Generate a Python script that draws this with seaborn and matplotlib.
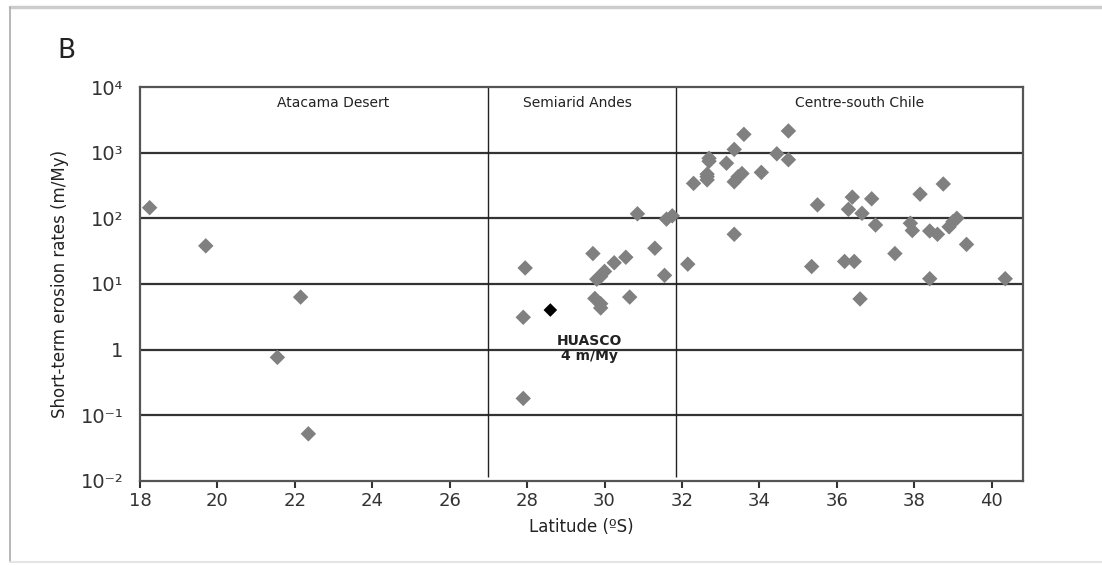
import matplotlib
matplotlib.use('Agg')
import pandas as pd
import seaborn as sns
import matplotlib.pyplot as plt
from matplotlib.lines import Line2D

# Values (latitude in degrees S, erosion rate in m/My)
latitude = [18.25, 19.7, 22.15, 21.55, 22.35,
            27.95, 27.9, 27.9, 29.7, 30.25, 30.55, 31.3, 30.85, 31.6, 31.75,
            31.55, 30.0, 29.9, 29.8, 29.75, 29.9, 29.9, 30.65,
            32.15, 32.3, 32.65, 32.65, 32.7, 32.65, 32.7, 33.15, 33.35, 33.6,
            33.35, 33.45, 33.55, 33.35, 34.05, 34.45, 34.75, 34.75,
            35.5, 35.35, 36.4, 36.3, 36.65, 36.9, 37.0, 36.2, 36.45, 36.6,
            37.5, 37.9, 37.95, 38.15, 38.4, 38.6, 38.9, 39.0, 39.1, 38.75,
            39.35, 38.4, 40.35]
rate = [145, 38, 6.3, 0.76, 0.052,
        17.5, 3.1, 0.18, 29, 21, 25.5, 35, 117, 97, 109,
        13.5, 15.5, 13, 11.8, 6, 5, 4.3, 6.3,
        20, 340, 430, 385, 820, 470, 740, 690, 1120, 1900,
        360, 430, 480, 57, 500, 960, 2140, 780,
        160, 18.4, 210, 137, 119, 198, 79, 22, 22, 5.9,
        29, 84, 65, 233, 64, 57, 74, 89, 100, 333,
        40, 12, 12]
huasco_lat = [28.6]
huasco_rate = [4]

regions = ['Atacama Desert', 'Semiarid Andes', 'Centre-south Chile']
region_mid = [23.0, 29.3, 36.6]
boundaries = [27.0, 31.85]
ytick_labels = ['10⁻²', '10⁻¹', '1', '10¹', '10²', '10³', '10⁴']

df = pd.DataFrame({'Latitude': latitude, 'Rate': rate})
huasco = pd.DataFrame({'Latitude': huasco_lat, 'Rate': huasco_rate})

sns.set_style('white')
plt.rcParams['font.family'] = ['DejaVu Sans']

fig = plt.figure(figsize=(11.02, 5.65), dpi=100)
ax = fig.add_axes([0.127, 0.149, 0.801, 0.697])

# Horizontal decade lines
for e in range(-1, 4):
    ax.axhline(10.0 ** e, color='#333333', lw=1.6, zorder=1)
# Region dividers
ax.vlines(boundaries, 0.0115, 1e4, color='#222222', lw=1.0, zorder=1)

sns.scatterplot(data=df, x='Latitude', y='Rate', marker='D', s=62,
                color='#808080', edgecolor='none', ax=ax, zorder=3)
sns.scatterplot(data=huasco, x='Latitude', y='Rate', marker='D', s=48,
                color='black', edgecolor='none', ax=ax, zorder=4)

ax.set_yscale('log')
ax.set_ylim(1e-2, 1e4)
ax.set_xlim(18, 40.8)
ax.set_xticks(range(18, 41, 2))
ax.set_yticks([1e-2, 1e-1, 1, 1e1, 1e2, 1e3, 1e4])
ax.set_yticklabels(ytick_labels)
ax.minorticks_off()
ax.tick_params(axis='x', which='major', direction='out', length=5, width=1.5,
               color='#333333', labelsize=13, pad=3, bottom=True,
               labelcolor='#333333')
ax.tick_params(axis='y', which='major', length=0, labelsize=14, pad=12,
               labelcolor='#333333')

for s in ax.spines.values():
    s.set_color('#555555')
    s.set_linewidth(1.6)

for name, xm in zip(regions, region_mid):
    ax.text(xm, 5.8e3, name, ha='center', va='center', fontsize=10,
            color='#222222')

ax.text(29.6, 1.05, 'HUASCO\n4 m/My', ha='center', va='center',
        fontsize=10, fontweight='bold', color='#222222', linespacing=1.1)

ax.set_xlabel('Latitude (ºS)', fontsize=12, labelpad=6, color='#222222')
ax.set_ylabel('Short-term erosion rates (m/My)', fontsize=12, labelpad=8,
              color='#222222')

fig.text(0.052, 0.91, 'B', fontsize=19, color='#222222', ha='left',
         va='center')

# outer frame
fig.add_artist(Line2D([0.009, 1.0], [0.987, 0.987], transform=fig.transFigure,
                      color='#cccccc', lw=2.5))
fig.add_artist(Line2D([0.009, 0.009], [0.005, 0.987], transform=fig.transFigure,
                      color='#aaaaaa', lw=1.2))
fig.add_artist(Line2D([0.009, 1.0], [0.005, 0.005], transform=fig.transFigure,
                      color='#e5e5e5', lw=1.5))

fig.savefig('out.png', dpi=100)
